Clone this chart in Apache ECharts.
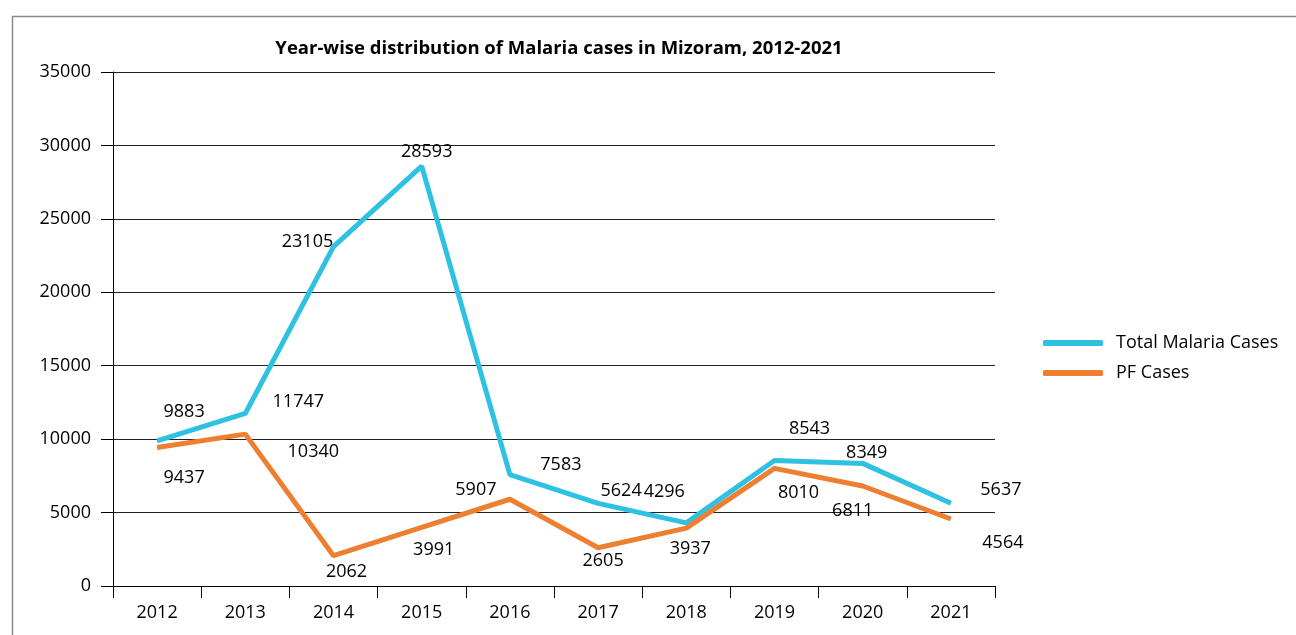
<!DOCTYPE html>
<html>
<head>
<meta charset="utf-8">
<script src="https://cdn.jsdelivr.net/npm/echarts@6/dist/echarts.min.js"></script>
<style>html,body{margin:0;padding:0;background:#fff}#c{width:1296px;height:635px}</style>
</head>
<body>
<div id="c"></div>
<script>
const years = ['2012','2013','2014','2015','2016','2017','2018','2019','2020','2021'];
const totalCases = [9883, 11747, 23105, 28593, 7583, 5624, 4296, 8543, 8349, 5637];
const pfCases = [9437, 10340, 2062, 3991, 5907, 2605, 3937, 8010, 6811, 4564];
const yTicks = [0, 5000, 10000, 15000, 20000, 25000, 30000, 35000];

// label placement offsets (style only)
const totalLabelOffsets = [[27,-29],[53,-12],[-26,-5],[5,-14],[51,-10],[23,-13],[-22,-31],[35,-32],[4,-11],[50,-13]];
const pfLabelOffsets = [[27,30],[68,18],[13,16],[12,22],[-34,-9],[5,13],[4,21],[24,25],[-10,25],[52,24]];

const FONT = '"Open Sans", "Noto Sans", sans-serif';
const CYAN = '#2EC1E2';
const ORANGE = '#EE7F31';

function mk(vals, offs) {
  return vals.map((v, i) => ({
    value: v,
    label: { offset: offs[i] }
  }));
}

const chart = echarts.init(document.getElementById('c'), null, {renderer: 'canvas'});
chart.setOption({
  backgroundColor: '#fff',
  animation: false,
  graphic: [{
    type: 'rect', left: 10, top: 14,
    shape: { width: 1300, height: 700 },
    style: { fill: 'none', stroke: '#8a8a8a', lineWidth: 1.5 },
    silent: true
  }],
  title: {
    text: 'Year-wise distribution of Malaria cases in Mizoram, 2012-2021',
    left: 554, top: 34, textAlign: 'center',
    textStyle: { fontFamily: FONT, fontWeight: 'bold', fontSize: 18.5, color: '#000' }
  },
  legend: {
    orient: 'vertical',
    left: 1038, top: 329,
    itemWidth: 60, itemHeight: 6, itemGap: 12,
    icon: 'roundRect',
    textStyle: { fontFamily: FONT, fontSize: 18, color: '#000', padding: [0, 0, 0, 8] },
    data: ['Total Malaria Cases', 'PF Cases']
  },
  grid: { left: 113, right: 301, top: 72, bottom: 49 },
  xAxis: {
    type: 'category',
    data: years,
    boundaryGap: true,
    axisLine: { lineStyle: { color: '#000', width: 1 } },
    axisTick: { show: true, length: 12, lineStyle: { color: '#000' } },
    axisLabel: { color: '#000', fontFamily: FONT, fontSize: 18, margin: 18 }
  },
  yAxis: {
    type: 'value',
    min: yTicks[0], max: yTicks[yTicks.length - 1], interval: 5000,
    axisLine: { show: true, lineStyle: { color: '#000', width: 1 } },
    axisTick: { show: true, length: 12, lineStyle: { color: '#000' } },
    splitLine: { lineStyle: { color: '#222', width: 1 } },
    axisLabel: { color: '#000', fontFamily: FONT, fontSize: 18, margin: 22, formatter: v => String(v) }
  },
  series: [
    {
      name: 'Total Malaria Cases', type: 'line',
      data: mk(totalCases, totalLabelOffsets),
      symbol: 'circle', symbolSize: 0.1,
      lineStyle: { color: CYAN, width: 5 },
      itemStyle: { color: CYAN },
      label: { show: true, position: 'inside', color: '#000', fontFamily: FONT, fontSize: 18 },
      z: 3
    },
    {
      name: 'PF Cases', type: 'line',
      data: mk(pfCases, pfLabelOffsets),
      symbol: 'circle', symbolSize: 0.1,
      lineStyle: { color: ORANGE, width: 5 },
      itemStyle: { color: ORANGE },
      label: { show: true, position: 'inside', color: '#000', fontFamily: FONT, fontSize: 18 },
      z: 4
    }
  ]
});
</script>
</body>
</html>
